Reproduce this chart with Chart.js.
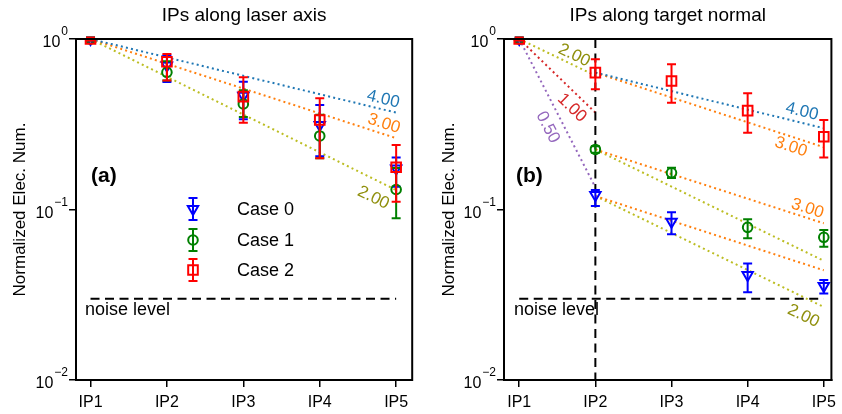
<!DOCTYPE html>
<html>
<head>
<meta charset="utf-8">
<script src="https://cdn.jsdelivr.net/npm/chart.js@4.4.1/dist/chart.umd.min.js"></script>
<style>
  body { margin: 0; background: #fff; }
  #wrap { position: relative; width: 842px; height: 414px; }
  canvas { position: absolute; top: 0; }
</style>
</head>
<body>
<div id="wrap">
  <canvas id="chartA" width="421" height="414" style="left:0px;width:421px;height:414px"></canvas>
  <canvas id="chartB" width="421" height="414" style="left:421px;width:421px;height:414px"></canvas>
</div>
<script>
const ipLabels = ["IP1", "IP2", "IP3", "IP4", "IP5"];
const caseNames = ["Case 0", "Case 1", "Case 2"];
const yTickValues = [1, 0.1, 0.01];
const yTickExps = ["0", "\u22121", "\u22122"];
const noiseLevel = 0.03;

// (a) IPs along laser axis
const laserCase0 = [1.0, 0.70, 0.465, 0.313, 0.174];
const laserCase0Lo = [0.98, 0.56, 0.338, 0.205, 0.136];
const laserCase0Hi = [1.02, 0.80, 0.562, 0.41, 0.202];
const laserCase1 = [1.0, 0.638, 0.416, 0.27, 0.131];
const laserCase1Lo = [0.98, 0.57, 0.349, 0.20, 0.089];
const laserCase1Hi = [1.02, 0.74, 0.50, 0.36, 0.175];
const laserCase2 = [1.0, 0.736, 0.459, 0.335, 0.177];
const laserCase2Lo = [0.98, 0.57, 0.323, 0.20, 0.111];
const laserCase2Hi = [1.02, 0.817, 0.596, 0.449, 0.239];
// guide lines: label, from IP, value, to IP, value
const laserFits = [
  ["4.00", 0, 1.0, 4, 0.37],
  ["3.00", 0, 1.0, 4, 0.262],
  ["2.00", 0, 1.0, 4, 0.13],
];

// (b) IPs along target normal
const normalCase0 = [1.0, 0.1216, 0.0848, 0.0413, 0.0356];
const normalCase0Lo = [0.98, 0.105, 0.0716, 0.0327, 0.0322];
const normalCase0Hi = [1.02, 0.13, 0.0963, 0.0483, 0.0386];
const normalCase1 = [1.0, 0.225, 0.164, 0.0786, 0.0687];
const normalCase1Lo = [0.98, 0.215, 0.153, 0.0678, 0.0605];
const normalCase1Hi = [1.02, 0.235, 0.176, 0.0876, 0.0759];
const normalCase2 = [1.0, 0.635, 0.567, 0.38, 0.267];
const normalCase2Lo = [0.98, 0.507, 0.423, 0.282, 0.202];
const normalCase2Hi = [1.02, 0.76, 0.71, 0.48, 0.335];
const normalFits = [
  ["2.00", 0, 1.0, 1, 0.61],
  ["1.00", 0, 1.0, 1, 0.37],
  ["0.50", 0, 1.0, 1, 0.135],
  ["4.00", 1, 0.635, 4, 0.30],
  ["3.00", 1, 0.635, 4, 0.232],
  ["3.00", 1, 0.225, 4, 0.083],
  ["", 1, 0.225, 4, 0.05],
  ["", 1, 0.12, 4, 0.044],
  ["2.00", 1, 0.12, 4, 0.0268],
];

// styles / label placement (kept apart from the data)
const caseColors = ["#0000ff", "#008000", "#ff0000"];
const caseMarkers = [
  { pointStyle: "triangle", rotation: 180, radius: 6 },
  { pointStyle: "circle", rotation: 0, radius: 4.8 },
  { pointStyle: "rect", rotation: 0, radius: 6.8 },
];
const laserFitColors = ["#1f77b4", "#ff7f0e", "#bcbd22"];
const laserLabelAt = [3.8, 3.8, 3.8];
const laserLabelOff = [-10, -10, 17];
const normalFitColors = ["#bcbd22", "#d62728", "#9467bd", "#1f77b4", "#ff7f0e",
  "#ff7f0e", "#bcbd22", "#ff7f0e", "#bcbd22"];
const normalLabelAt = [0.67, 0.81, 0.55, 3.68, 3.61, 3.75, 0, 0, 3.83];
const normalLabelOff = [-9, 13, 15, -11, 10, -9, 0, 0, 17];

const FONT = "'Liberation Sans', Arial, sans-serif";
Chart.defaults.font.family = FONT;
Chart.defaults.color = "#000";

function caseSets(vals, los, his) {
  return vals.map(function (v, k) {
    const m = caseMarkers[k];
    return {
      label: caseNames[k],
      data: v.map((y, i) => ({ x: i, y: y })),
      errLo: los[k],
      errHi: his[k],
      showLine: false,
      borderColor: caseColors[k],
      backgroundColor: "rgba(0,0,0,0)",
      pointStyle: m.pointStyle,
      rotation: m.rotation,
      pointRadius: m.radius,
      pointBorderWidth: 2,
      order: 2 - k,
    };
  });
}

function fitSets(fits, colors, at, off) {
  return fits.map(function (f, k) {
    return {
      label: "fit",
      data: [{ x: f[1], y: f[2] }, { x: f[3], y: f[4] }],
      fitText: f[0],
      labelAt: at[k],
      labelOff: off[k],
      showLine: true,
      borderColor: colors[k],
      borderWidth: 2,
      borderDash: [2, 3.2],
      pointRadius: 0,
      order: 10,
    };
  });
}

function dashSet(points) {
  return {
    label: "dash",
    data: points,
    showLine: true,
    borderColor: "#000",
    borderWidth: 2,
    borderDash: [9, 5.5],
    pointRadius: 0,
    order: 9,
  };
}

const errorBarPlugin = {
  id: "errorBars",
  beforeDatasetDraw(chart, args) {
    const ds = chart.data.datasets[args.index];
    if (!ds.errLo) return;
    const ctx = chart.ctx, ys = chart.scales.y;
    ctx.save();
    ctx.strokeStyle = ds.borderColor;
    ctx.lineWidth = 2;
    args.meta.data.forEach(function (pt, i) {
      const top = ys.getPixelForValue(ds.errHi[i]);
      const bot = ys.getPixelForValue(ds.errLo[i]);
      ctx.beginPath();
      ctx.moveTo(pt.x, top); ctx.lineTo(pt.x, bot);
      ctx.moveTo(pt.x - 4.5, top); ctx.lineTo(pt.x + 4.5, top);
      ctx.moveTo(pt.x - 4.5, bot); ctx.lineTo(pt.x + 4.5, bot);
      ctx.stroke();
    });
    ctx.restore();
  },
};

const decorPlugin = {
  id: "decor",
  afterDatasetsDraw(chart, args, opts) {
    const ctx = chart.ctx, a = chart.chartArea;
    const xs = chart.scales.x, ys = chart.scales.y;
    ctx.save();

    // frame
    ctx.strokeStyle = "#000";
    ctx.lineWidth = 2;
    ctx.strokeRect(a.left, a.top, a.right - a.left, a.bottom - a.top);

    // guide line labels
    chart.data.datasets.forEach(function (ds, i) {
      if (!ds.fitText) return;
      const pts = chart.getDatasetMeta(i).data;
      const p0 = pts[0], p1 = pts[1];
      const th = Math.atan2(p1.y - p0.y, p1.x - p0.x);
      const ax = xs.getPixelForValue(ds.labelAt);
      const ay = p0.y + (ax - p0.x) * (p1.y - p0.y) / (p1.x - p0.x);
      const cx = ax - ds.labelOff * Math.sin(th);
      const cy = ay + ds.labelOff * Math.cos(th);
      ctx.save();
      ctx.translate(cx, cy);
      ctx.rotate(th);
      ctx.fillStyle = ds.borderColor === "#bcbd22" ? "#8f8f0c" : ds.borderColor;
      ctx.font = "17px " + FONT;
      ctx.textAlign = "center";
      ctx.textBaseline = "middle";
      ctx.fillText(ds.fitText, 0, 0);
      ctx.restore();
    });

    ctx.fillStyle = "#000";
    ctx.textBaseline = "middle";
    // title
    ctx.font = "19px " + FONT;
    ctx.textAlign = "center";
    ctx.fillText(opts.title, (a.left + a.right) / 2, 16);

    // y axis title
    ctx.save();
    ctx.translate(opts.yTitleX, (a.top + a.bottom) / 2);
    ctx.rotate(-Math.PI / 2);
    ctx.font = "17px " + FONT;
    ctx.fillText("Normalized Elec. Num.", 0, 0);
    ctx.restore();

    // y tick labels 10^n
    yTickValues.forEach(function (v, k) {
      const y = ys.getPixelForValue(v);
      ctx.font = "12px " + FONT;
      ctx.textAlign = "right";
      const ew = ctx.measureText(yTickExps[k]).width;
      ctx.fillText(yTickExps[k], a.left - 8, y - 7);
      ctx.font = "16px " + FONT;
      ctx.fillText("10", a.left - 9 - ew, y + 4);
    });

    // panel tag
    ctx.font = "bold 21px " + FONT;
    ctx.textAlign = "left";
    ctx.fillText(opts.tag, a.left + opts.tagDx, 176);

    // noise level text
    ctx.font = "18px " + FONT;
    ctx.fillText("noise level", a.left + opts.noiseDx, 310);

    // legend
    if (opts.legend) {
      const lx = 193, rows = [209, 240, 270];
      caseNames.forEach(function (name, k) {
        const y = rows[k];
        ctx.strokeStyle = caseColors[k];
        ctx.fillStyle = "rgba(0,0,0,0)";
        ctx.lineWidth = 2;
        ctx.beginPath();
        ctx.moveTo(lx, y - 11); ctx.lineTo(lx, y + 11);
        ctx.moveTo(lx - 4.5, y - 11); ctx.lineTo(lx + 4.5, y - 11);
        ctx.moveTo(lx - 4.5, y + 11); ctx.lineTo(lx + 4.5, y + 11);
        ctx.stroke();
        const m = caseMarkers[k];
        Chart.helpers.drawPoint(ctx, {
          pointStyle: m.pointStyle, rotation: m.rotation, radius: m.radius, borderWidth: 2,
        }, lx, y);
        ctx.fillStyle = "#000";
        ctx.font = "18px " + FONT;
        ctx.textAlign = "left";
        ctx.fillText(name, 237, y + 1);
      });
    }
    ctx.restore();
  },
};

function makePanel(id, datasets, xMin, xMax, yAxisWidth, decor) {
  return new Chart(document.getElementById(id), {
    type: "scatter",
    data: { datasets: datasets },
    plugins: [errorBarPlugin, decorPlugin],
    options: {
      responsive: false,
      animation: false,
      layout: { padding: { left: 0, right: 4, top: 39, bottom: 0 } },
      plugins: {
        legend: { display: false },
        tooltip: { enabled: false },
        decor: decor,
      },
      scales: {
        x: {
          type: "linear",
          min: xMin,
          max: xMax,
          afterBuildTicks: (s) => { s.ticks = ipLabels.map((t, i) => ({ value: i })); },
          afterFit: (s) => { s.height = 34; },
          ticks: {
            callback: (v) => ipLabels[v],
            font: { size: 16 },
            padding: 6,
            maxRotation: 0,
            autoSkip: false,
          },
          grid: { drawOnChartArea: false, drawTicks: true, tickLength: 7, color: "#000", lineWidth: 1.5 },
          border: { display: true, color: "#000", width: 2 },
        },
        y: {
          type: "logarithmic",
          min: 0.01,
          max: 1,
          afterBuildTicks: (s) => { s.ticks = yTickValues.map((v) => ({ value: v })); },
          afterFit: (s) => { s.width = yAxisWidth; },
          ticks: { callback: () => "", autoSkip: false },
          grid: { drawOnChartArea: false, drawTicks: true, tickLength: 7, color: "#000", lineWidth: 1.5 },
          border: { display: true, color: "#000", width: 2 },
        },
      },
    },
  });
}

const datasetsA = []
  .concat(caseSets([laserCase0, laserCase1, laserCase2],
    [laserCase0Lo, laserCase1Lo, laserCase2Lo],
    [laserCase0Hi, laserCase1Hi, laserCase2Hi]))
  .concat(fitSets(laserFits, laserFitColors, laserLabelAt, laserLabelOff))
  .concat([dashSet([{ x: 0, y: noiseLevel }, { x: 4, y: noiseLevel }])]);

const datasetsB = []
  .concat(caseSets([normalCase0, normalCase1, normalCase2],
    [normalCase0Lo, normalCase1Lo, normalCase2Lo],
    [normalCase0Hi, normalCase1Hi, normalCase2Hi]))
  .concat(fitSets(normalFits, normalFitColors, normalLabelAt, normalLabelOff))
  .concat([
    dashSet([{ x: 0, y: noiseLevel }, { x: 4, y: noiseLevel }]),
    dashSet([{ x: 1, y: 1 }, { x: 1, y: 0.01 }]),
  ]);

makePanel("chartA", datasetsA, -0.19, 4.21, 76,
  { title: "IPs along laser axis", yTitleX: 20, tag: "(a)", tagDx: 15, noiseDx: 9, legend: true });
makePanel("chartB", datasetsB, -0.2, 4.1, 83,
  { title: "IPs along target normal", yTitleX: 28, tag: "(b)", tagDx: 12, noiseDx: 10, legend: false });
</script>
</body>
</html>
